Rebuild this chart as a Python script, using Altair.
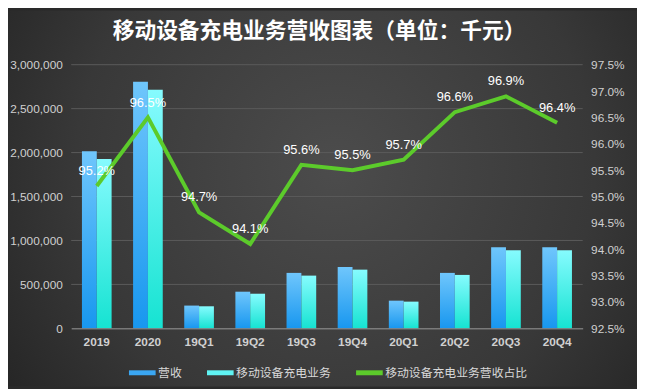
import altair as alt
import pandas as pd

categories = ["2019", "2020", "19Q1", "19Q2", "19Q3", "19Q4", "20Q1", "20Q2", "20Q3", "20Q4"]
revenue = [2015000, 2805000, 259000, 417000, 631000, 698000, 315000, 631000, 923000, 923000]
mobile = [1926000, 2714000, 251000, 394000, 600000, 668000, 304000, 608000, 890000, 890000]
share = [0.952, 0.965, 0.947, 0.941, 0.956, 0.955, 0.957, 0.966, 0.969, 0.964]
left_ticks = [0, 500000, 1000000, 1500000, 2000000, 2500000, 3000000]
right_ticks = [0.925, 0.93, 0.935, 0.94, 0.945, 0.95, 0.955, 0.96, 0.965, 0.97, 0.975]

s_rev = "营收"
s_mob = "移动设备充电业务"
s_share = "移动设备充电业务营收占比"

FONT = "Liberation Sans, Arial, Noto Sans CJK SC, sans-serif"
W, H = 518, 267
PL, PT, PR, PB = 64, 55, 55, 59

bars_df = pd.DataFrame({
    "cat": categories * 2,
    "series": [s_rev] * len(categories) + [s_mob] * len(categories),
    "value": revenue + mobile,
})
line_df = pd.DataFrame({"cat": categories, "share": share, "series": [s_share] * len(categories)})
grid_df = pd.DataFrame({"value": left_ticks[1:]})

x_enc = alt.X("cat:N", sort=categories, title=None,
              scale=alt.Scale(paddingInner=0.42, paddingOuter=0.21),
              axis=alt.Axis(labelAngle=0, labelFontWeight="bold", labelColor="#d0d0d0",
                            labelFontSize=12, labelPadding=8, ticks=False, domain=True,
                            domainColor="#9a9a9a", domainWidth=1, grid=False, zindex=1))
xoff = alt.XOffset("series:N", sort=[s_rev, s_mob],
                   scale=alt.Scale(domain=[s_rev, s_mob], paddingInner=0, paddingOuter=0))
y_left = alt.Y("value:Q", title=None,
               scale=alt.Scale(domain=[0, 3000000]),
               axis=alt.Axis(values=left_ticks, format=",.0f", labelColor="#d0d0d0",
                             labelFontSize=12, labelPadding=9, domain=False, ticks=False,
                             grid=False, labelOverlap=False, zindex=1))

grad_rev = {"gradient": "linear", "x1": 0, "y1": 0, "x2": 0, "y2": 1,
            "stops": [{"offset": 0, "color": "#6fc6fc"}, {"offset": 1, "color": "#1897ef"}]}
grad_mob = {"gradient": "linear", "x1": 0, "y1": 0, "x2": 0, "y2": 1,
            "stops": [{"offset": 0, "color": "#86fbfe"}, {"offset": 1, "color": "#16e3d2"}]}

grid = alt.Chart(grid_df).mark_rule(color="#5a5a5a", strokeWidth=1).encode(y=y_left)
base_bars = alt.Chart(bars_df)
bar_rev = base_bars.transform_filter(alt.datum.series == s_rev).mark_bar(color=grad_rev).encode(
    x=x_enc, xOffset=xoff, y=y_left)
bar_mob = base_bars.transform_filter(alt.datum.series == s_mob).mark_bar(color=grad_mob).encode(
    x=x_enc, xOffset=xoff, y=y_left)
left = alt.layer(grid, bar_rev, bar_mob)

y_right = alt.Y("share:Q", title=None,
                scale=alt.Scale(domain=[0.925, 0.975], zero=False),
                axis=alt.Axis(orient="right", values=right_ticks, format=".1%",
                              labelColor="#d0d0d0", labelFontSize=12, labelPadding=8,
                              domain=False, ticks=False, grid=False, labelOverlap=False,
                              zindex=1))

line = alt.Chart(line_df).mark_line(strokeWidth=4).encode(
    x=alt.X("cat:N", sort=categories),
    y=y_right,
    color=alt.Color("series:N",
                    scale=alt.Scale(domain=[s_rev, s_mob, s_share],
                                    range=["#3aa6f2", "#5ff3f3", "#5ccb2b"]),
                    legend=alt.Legend(title=None, orient="none", direction="horizontal",
                                      legendX=56, legendY=296, symbolType="stroke",
                                      symbolSize=729, symbolStrokeWidth=5, labelColor="#d8d8d8",
                                      labelFontSize=12, labelOffset=0, columnPadding=14,
                                      labelLimit=300, zindex=1)),
)
labels = alt.Chart(line_df).mark_text(dy=-15, color="#ffffff", fontSize=13).encode(
    x=alt.X("cat:N", sort=categories),
    y=y_right,
    text=alt.Text("share:Q", format=".1%"),
)
right = alt.layer(line, labels)

bg = alt.Chart(pd.DataFrame({"k": [0]})).mark_rect(
    fill={"gradient": "radial", "x1": 0.52, "y1": 0.45, "r1": 0, "x2": 0.52, "y2": 0.45, "r2": 0.75,
          "stops": [{"offset": 0, "color": "#4c4c4c"}, {"offset": 0.55, "color": "#383838"},
                    {"offset": 1, "color": "#1c1c1c"}]}
).encode(x=alt.value(-PL), x2=alt.value(W + PR), y=alt.value(-PT), y2=alt.value(H + PB))

chart = alt.layer(bg, left, right).resolve_scale(y="independent").properties(
    width=W, height=H,
    autosize=alt.AutoSizeParams(type="none"),
    padding={"left": PL, "top": PT, "right": PR, "bottom": PB},
    background="#2a2a2a",
    title=alt.TitleParams("移动设备充电业务营收图表（单位：千元）", anchor="middle", color="#ffffff",
                          fontSize=22, fontWeight="bold", font="Noto Sans CJK SC", offset=0,
                          dy=33, dx=-8, zindex=1),
).configure_view(stroke=None).configure(font=FONT)

chart.save("out.html", embed_options={"renderer": "svg", "actions": False})
